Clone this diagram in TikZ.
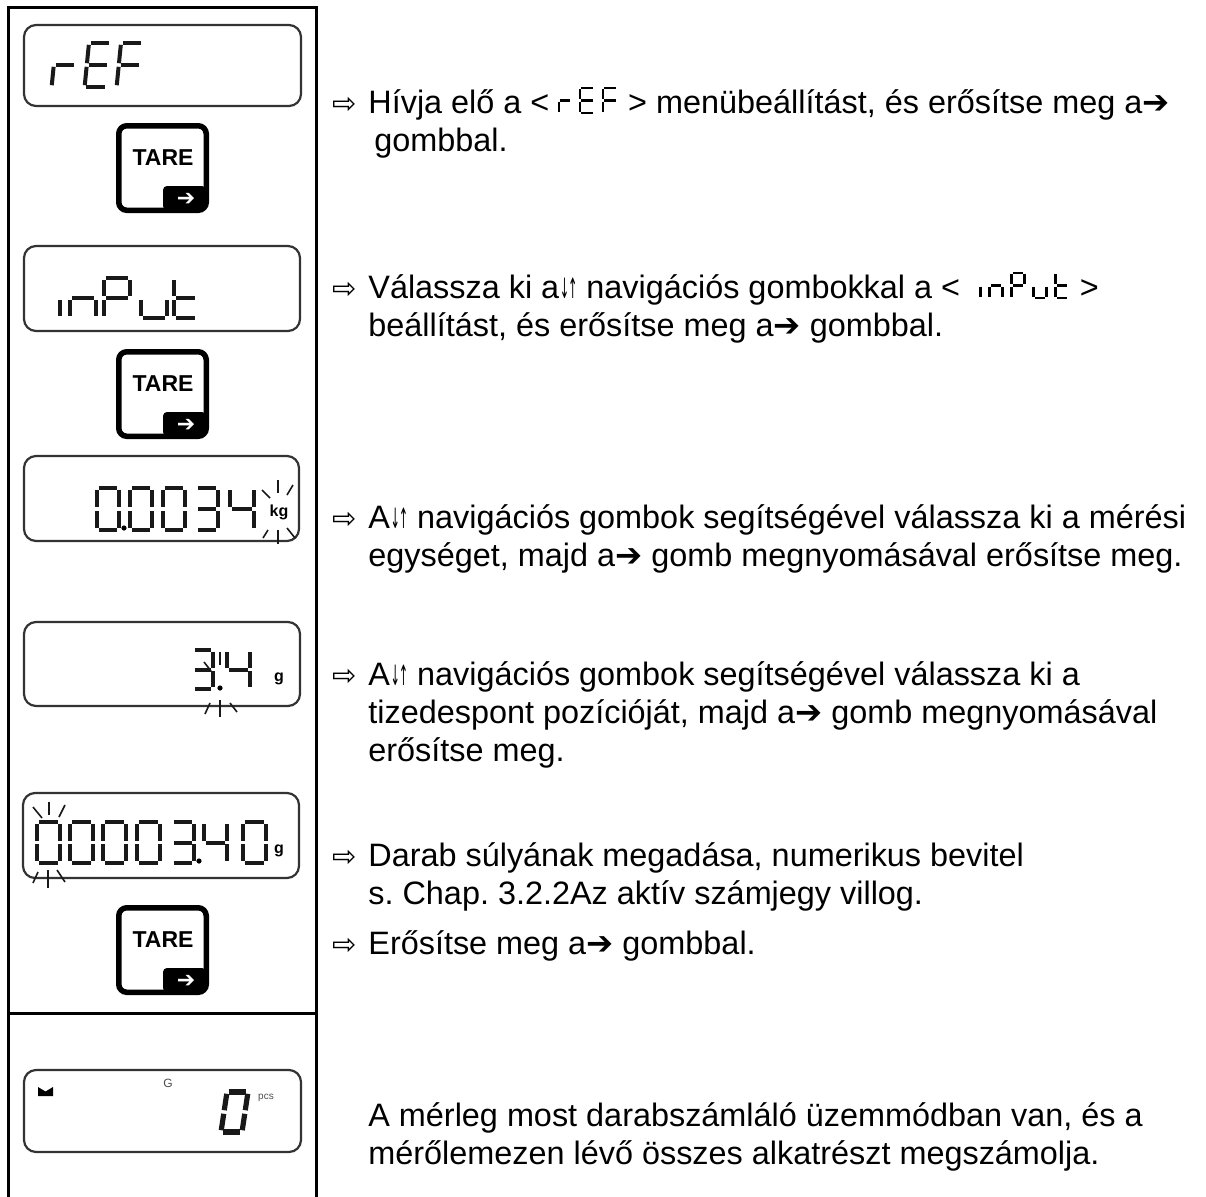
\documentclass[tikz,border=0pt]{standalone}
\usepackage{fontspec}
\setmainfont{Liberation Sans}
\newfontfamily\dejavu{DejaVu Sans}
\usetikzlibrary{calc}
\frenchspacing

\tikzset{
  x=0.5pt, y=-0.5pt,
  frame/.style={line width=1.5pt, line cap=rect},
  lcdbox/.style={draw=black!80, line width=1.1pt, rounded corners=6pt},
  seg/.style={line width=2pt, draw=black!90},
  inseg/.style={seg/.style={line width=1.1pt, draw=black}},
  ray/.style={line width=0.8pt, black!90},
  txt/.style={anchor=base west, inner sep=0pt, font=\fontsize{16.2}{19}\selectfont},
  bullet/.style={anchor=base west, inner sep=0pt, font=\dejavu\fontsize{14.5}{16}\selectfont},
  unit/.style={inner sep=0pt, font=\bfseries\fontsize{8}{9}\selectfont},
}
\newcommand\updn{{\dejavu\fontsize{14}{12}\selectfont\kern0.3pt\scalebox{0.4}[1]{↓}\kern-0.6pt\scalebox{0.4}[1]{↑}}}
\newcommand\harr{{\dejavu ➔}}

\def\sgGap{1.8}
\def\sgxa{\draw[seg] (\sgGap,0) -- ({\sgW-\sgGap},0);}
\def\sgxb{\draw[seg] (\sgW,\sgGap) -- (\sgW,{\sgH/2-\sgGap});}
\def\sgxc{\draw[seg] (\sgW,{\sgH/2+\sgGap}) -- (\sgW,{\sgH-\sgGap});}
\def\sgxd{\draw[seg] (\sgGap,\sgH) -- ({\sgW-\sgGap},\sgH);}
\def\sgxe{\draw[seg] (0,{\sgH/2+\sgGap}) -- (0,{\sgH-\sgGap});}
\def\sgxf{\draw[seg] (0,\sgGap) -- (0,{\sgH/2-\sgGap});}
\def\sgxg{\draw[seg] (\sgGap,{\sgH/2}) -- ({\sgW-\sgGap},{\sgH/2});}

% #1 options, #2 x, #3 y (top-left), #4 w, #5 h, #6 segments
\newcommand\sevdig[6][]{%
  \begin{scope}[shift={(#2,#3)},#1]
    \def\sgW{#4}\def\sgH{#5}%
    \foreach \s in {#6}{\csname sgx\s\endcsname}
  \end{scope}}

% TARE button: #1 name, #2 top y
\newcommand\tarebtn[2]{%
  \fill[black, rounded corners=2pt] (163,{#2+63}) rectangle (206,{#2+87});
  \draw[line width=2.75pt, rounded corners=4pt] (118.75,{#2+2.75}) rectangle (206.25,{#2+87.25});
  \node[inner sep=0pt, font=\bfseries\fontsize{11.5}{12}\selectfont] (#1) at (163,{#2+35}) {TARE};
  \node[inner sep=0pt, text=white, font=\dejavu\fontsize{11}{12}\selectfont] (#1arr) at (186,{#2+76}) {➔};
}

\begin{document}
\begin{tikzpicture}
\useasboundingbox (0,0) rectangle (1206,1196);

% frame
\draw[frame] (8,1196) -- (8,7.5) -- (316.5,7.5) -- (316.5,1196);
\draw[frame] (8,1013) -- (316.5,1013);

% ---------- display 1: rEF
\draw[lcdbox] (24,25) rectangle (301,106);
\sevdig[xslant=0.1]{56}{43}{22}{44}{e,g}
\sevdig[xslant=0.1]{89}{43}{22}{44}{a,d,e,f,g}
\sevdig[xslant=0.1]{121}{43}{22}{44}{a,e,f,g}
\tarebtn{tare1}{123}

% ---------- display 2: inPut
\draw[lcdbox] (24,246) rectangle (300,331);
\begin{scope}[seg/.style={line width=1.7pt, draw=black!90}]
\sevdig{60}{278}{20}{40}{e}
\sevdig{70}{278}{26}{40}{c,e,g}
\sevdig{104}{278}{26}{40}{a,b,e,f,g}
\sevdig{141}{278}{26}{40}{c,d,e}
\sevdig{174}{278}{23}{40}{d,e,f,g}
\end{scope}
\tarebtn{tare2}{349}

% ---------- display 3: 0.0034 kg
\draw[lcdbox] (24,456) rectangle (299,541);
\sevdig{97}{488}{22}{42}{a,b,c,d,e,f}
\fill (124,528) circle[radius=2.6];
\sevdig{130}{488}{22}{42}{a,b,c,d,e,f}
\sevdig{163}{488}{22}{42}{a,b,c,d,e,f}
\sevdig{196}{488}{22}{42}{a,b,c,d,g}
\sevdig{230}{488}{24}{42}{b,c,f,g}
\node[unit] (kg) at (279,512) {kg};
\draw[ray] (262,490) -- (270,498);
\draw[ray] (278,480) -- (278,493);
\draw[ray] (293,485) -- (287,495);
\draw[ray] (263,538) -- (268,530);
\draw[ray] (278,530) -- (278,544);
\draw[ray] (287,528) -- (295,538);

% ---------- display 4: 3.4 g
\draw[lcdbox] (24,622) rectangle (300,706);
\sevdig{193}{650}{20}{39}{a,b,c,d,g}
\fill (220,688) circle[radius=2.6];
\sevdig{227}{650}{23}{39}{b,c,f,g}
\node[unit] (g1) at (279,679) {g};
\draw[ray] (204,662) -- (211,671);
\draw[ray] (220,652) -- (220,665);
\draw[ray] (205,714) -- (210,703);
\draw[ray] (220,700) -- (220,717);
\draw[ray] (230,703) -- (237,712);

% ---------- display 5: 0000340 g
\draw[lcdbox] (23,793) rectangle (299,878);
\sevdig{37}{822}{23}{41}{a,b,c,d,e,f}
\sevdig{70}{822}{23}{41}{a,b,c,d,e,f}
\sevdig{103}{822}{23}{41}{a,b,c,d,e,f}
\sevdig{137}{822}{23}{41}{a,b,c,d,e,f}
\sevdig{172}{822}{22}{41}{a,b,c,d,g}
\fill (199,861) circle[radius=2.6];
\sevdig{204}{822}{23}{41}{b,c,f,g}
\sevdig{243}{822}{23}{41}{a,b,c,d,e,f}
\node[unit] (g2) at (279,851) {g};
\draw[ray] (33,807) -- (42,818);
\draw[ray] (49,802) -- (49,815);
\draw[ray] (65,805) -- (59,817);
\draw[ray] (33,883) -- (38,872);
\draw[ray] (48,870) -- (48,888);
\draw[ray] (57,870) -- (65,882);
\tarebtn{tare3}{905}

% ---------- display 6: counting mode
\draw[lcdbox] (24,1070) rectangle (301,1152);
\fill (38,1087) -- (45.5,1091.5) -- (53,1087) -- (53,1096) -- (38,1096) -- cycle;
\node[inner sep=0pt, text=black!70, font=\fontsize{6}{7}\selectfont] (gg) at (168,1083) {G};
\sevdig[xslant=0.15, seg/.style={line width=2.6pt, draw=black!90}]{227}{1092}{21}{40}{a,b,c,d,e,f}
\node[inner sep=0pt, text=black!70, font=\fontsize{5}{6}\selectfont] (pcs) at (266,1098) {pcs};

% ---------- texts
\node[bullet] (b1) at (332,113) {⇨};
\node[txt] (t1a) at (368,113) {Hívja elő a <};
\begin{scope}[shift={(t1a.base east)}, inseg]
  \def\sgGap{1.2}
  \sevdig{9}{-25}{12}{25}{e,g}
  \sevdig{30}{-25}{14}{25}{a,d,e,f,g}
  \sevdig{53}{-25}{14}{25}{a,e,f,g}
\end{scope}
\node[txt] (t1b) at ($(t1a.base east)+(78,0)$) {> menübeállítást, és erősítse meg a\harr};
\node[txt] (t1c) at (374,151) {gombbal.};

\node[bullet] (b2) at (332,298) {⇨};
\node[txt] (t2a) at (368,298) {Válassza ki a\updn{} navigációs gombokkal a <};
\begin{scope}[shift={(t2a.base east)}, inseg]
  \def\sgGap{1.2}
  \sevdig{20}{-25}{10}{25}{e}
  \sevdig{29}{-25}{13}{25}{c,e,g}
  \sevdig{51}{-25}{13}{25}{a,b,e,f,g}
  \sevdig{73}{-25}{13}{25}{c,d,e}
  \sevdig{95}{-25}{13}{25}{d,e,f,g}
\end{scope}
\node[txt] (t2b) at ($(t2a.base east)+(119,0)$) {>};
\node[txt] (t2c) at (368,336) {beállítást, és erősítse meg a\harr{} gombbal.};

\node[bullet] (b3) at (332,528) {⇨};
\node[txt] (t3a) at (368,528) {A\updn{} navigációs gombok segítségével válassza ki a mérési};
\node[txt] (t3b) at (368,566) {egységet, majd a\harr{} gomb megnyomásával erősítse meg.};

\node[bullet] (b4) at (332,685) {⇨};
\node[txt] (t4a) at (368,685) {A\updn{} navigációs gombok segítségével válassza ki a};
\node[txt] (t4b) at (368,723) {tizedespont pozícióját, majd a\harr{} gomb megnyomásával};
\node[txt] (t4c) at (368,761) {erősítse meg.};

\node[bullet] (b5) at (332,866) {⇨};
\node[txt] (t5a) at (368,866) {Darab súlyának megadása, numerikus bevitel};
\node[txt] (t5b) at (368,904) {s. Chap. 3.2.2Az aktív számjegy villog.};

\node[bullet] (b6) at (332,954) {⇨};
\node[txt] (t6a) at (368,954) {Erősítse meg a\harr{} gombbal.};

\node[txt] (t7a) at (368,1126) {A mérleg most darabszámláló üzemmódban van, és a};
\node[txt] (t7b) at (368,1164) {mérőlemezen lévő összes alkatrészt megszámolja.};
\end{tikzpicture}
\end{document}
